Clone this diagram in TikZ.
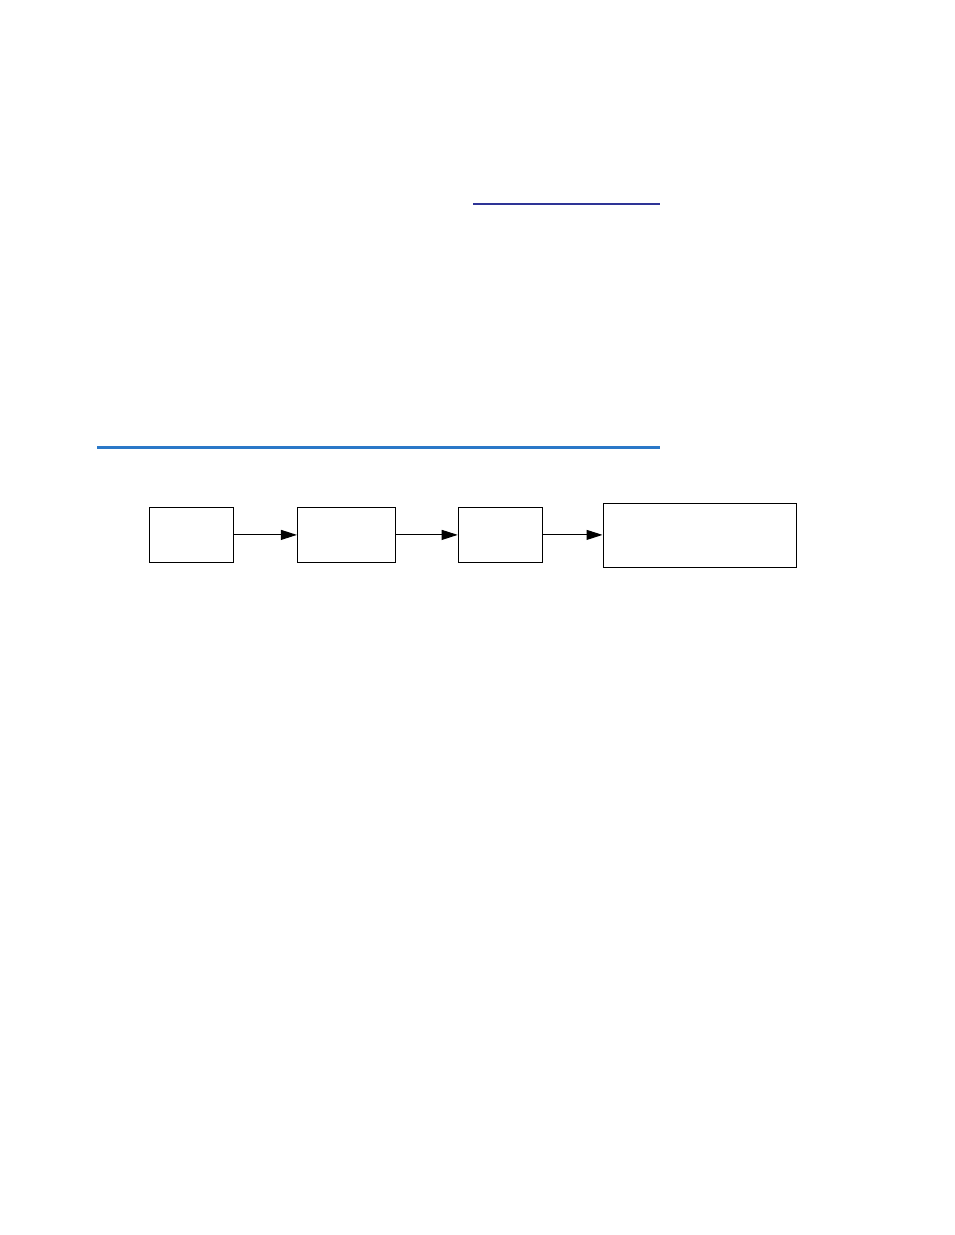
\documentclass[tikz,border=0pt]{standalone}
\usetikzlibrary{arrows.meta}
\definecolor{barblue}{RGB}{42,120,200}
\definecolor{linkblue}{RGB}{46,52,150}
\tikzset{
  blockbox/.style={draw=black, line width=1pt, rectangle, inner sep=0pt, fill=white},
  flowarrow/.style={draw=black, line width=1pt, -{Triangle[length=16pt,width=10pt]}},
}
\begin{document}
\begin{tikzpicture}[x=1pt,y=-1pt]
\useasboundingbox (0,0) rectangle (954,1235);
% hyperlink underline
\draw[linkblue, line width=1.3pt] (473,204) -- (660,204);
% blue rule
\draw[barblue, line width=3pt] (97,447.3) -- (660,447.3);
% blocks
\node[blockbox, minimum width=84pt, minimum height=55pt] (b1) at (191.5,534.9) {};
\node[blockbox, minimum width=98pt, minimum height=55pt] (b2) at (346.4,534.9) {};
\node[blockbox, minimum width=84pt, minimum height=55pt] (b3) at (500.2,534.9) {};
\node[blockbox, minimum width=193pt, minimum height=64pt] (b4) at (699.5,535.3) {};
% connectors
\draw[flowarrow] (b1.east) -- (b2.west);
\draw[flowarrow] (b2.east) -- (b3.west);
\draw[flowarrow] (b3.east) -- (b3.east -| b4.west);
\end{tikzpicture}
\end{document}
